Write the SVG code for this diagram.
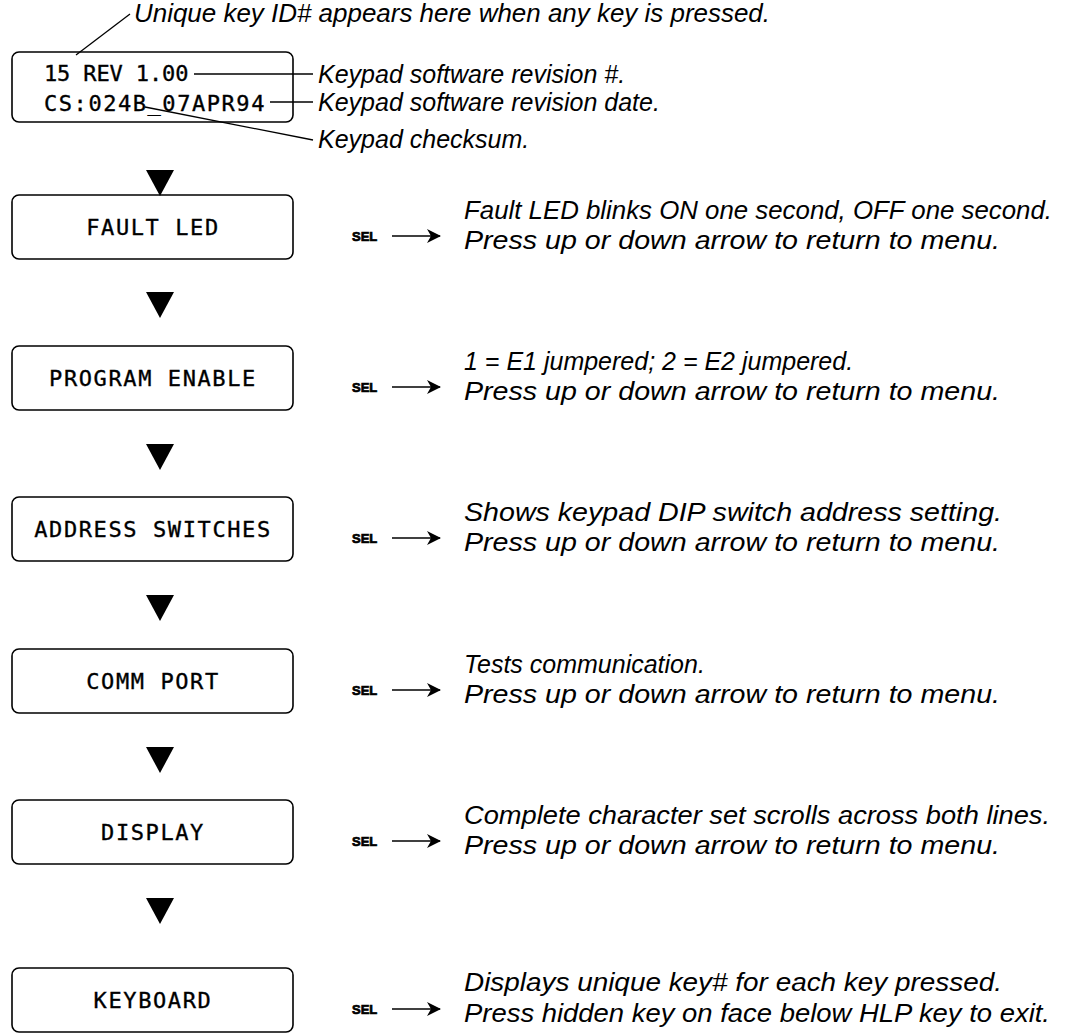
<svg xmlns="http://www.w3.org/2000/svg" width="1067" height="1034" viewBox="0 0 1067 1034">
<style>
.box{fill:none;stroke:#000;stroke-width:1.6}
.lcd{font-family:"DejaVu Sans Mono","Liberation Mono",monospace;font-size:22px;letter-spacing:1.6px;fill:#000;stroke:#000;stroke-width:0.35}
.note{font-family:"Liberation Sans",Arial,sans-serif;font-style:italic;font-size:25px;fill:#000}
.sel{font-family:"Liberation Sans",Arial,sans-serif;font-weight:bold;font-size:13px;fill:#000;stroke:#000;stroke-width:0.7}
.ln{stroke:#000;stroke-width:1.3;fill:none}
.tri{fill:#000}
</style>
<defs>
<marker id="ah" viewBox="0 0 14 14" refX="13" refY="7" markerWidth="14" markerHeight="14" markerUnits="userSpaceOnUse" orient="auto">
<path d="M0,0 L14,7 L0,14 L4,7 Z" fill="#000"/>
</marker>
</defs>
<rect width="1067" height="1034" fill="#fff"/>

<g id="connectors">
<line class="ln" x1="76" y1="55" x2="130" y2="14"/>
<line class="ln" x1="194" y1="74" x2="313" y2="74"/>
<line class="ln" x1="270" y1="102" x2="313" y2="102"/>
<line class="ln" x1="145" y1="107" x2="313" y2="140"/>
<polygon class="tri" points="146,170 174,170 160,196"/>
<polygon class="tri" points="146,292 174,292 160,318"/>
<polygon class="tri" points="146,444 174,444 160,470"/>
<polygon class="tri" points="146,595 174,595 160,621"/>
<polygon class="tri" points="146,747 174,747 160,773"/>
<polygon class="tri" points="146,898 174,898 160,924"/>
<line class="ln" x1="392" y1="236" x2="440" y2="236" marker-end="url(#ah)"/>
<line class="ln" x1="392" y1="387" x2="440" y2="387" marker-end="url(#ah)"/>
<line class="ln" x1="392" y1="538" x2="440" y2="538" marker-end="url(#ah)"/>
<line class="ln" x1="392" y1="690" x2="440" y2="690" marker-end="url(#ah)"/>
<line class="ln" x1="392" y1="841" x2="440" y2="841" marker-end="url(#ah)"/>
<line class="ln" x1="392" y1="1009" x2="440" y2="1009" marker-end="url(#ah)"/>
</g>

<g id="title">
<text class="note" x="134" y="22" textLength="636" lengthAdjust="spacingAndGlyphs">Unique key ID# appears here when any key is pressed.</text>
</g>

<g id="status">
<rect class="box" x="12" y="52" width="281" height="70" rx="7"/>
<text class="lcd" x="44" y="81" textLength="146" lengthAdjust="spacing">15 REV 1.00</text>
<text class="lcd" x="44" y="111" textLength="222" lengthAdjust="spacing">CS:024B_07APR94</text>
<text class="note" x="318" y="83">Keypad software revision #.</text>
<text class="note" x="318" y="111">Keypad software revision date.</text>
<text class="note" x="318" y="148">Keypad checksum.</text>
</g>

<g id="fault">
<rect class="box" x="12" y="195" width="281" height="64" rx="7"/>
<text class="lcd" x="153" y="235" text-anchor="middle">FAULT LED</text>
<text class="sel" x="352" y="241">SEL</text>
<text class="note" x="464" y="219" textLength="588" lengthAdjust="spacingAndGlyphs">Fault LED blinks ON one second, OFF one second.</text>
<text class="note" x="464" y="249" textLength="536" lengthAdjust="spacingAndGlyphs">Press up or down arrow to return to menu.</text>
</g>

<g id="program">
<rect class="box" x="12" y="346" width="281" height="64" rx="7"/>
<text class="lcd" x="153" y="386" text-anchor="middle">PROGRAM ENABLE</text>
<text class="sel" x="352" y="392">SEL</text>
<text class="note" x="464" y="370">1 = E1 jumpered; 2 = E2 jumpered.</text>
<text class="note" x="464" y="400" textLength="536" lengthAdjust="spacingAndGlyphs">Press up or down arrow to return to menu.</text>
</g>

<g id="address">
<rect class="box" x="12" y="497" width="281" height="64" rx="7"/>
<text class="lcd" x="153" y="537" text-anchor="middle">ADDRESS SWITCHES</text>
<text class="sel" x="352" y="543">SEL</text>
<text class="note" x="464" y="521" textLength="538" lengthAdjust="spacingAndGlyphs">Shows keypad DIP switch address setting.</text>
<text class="note" x="464" y="551" textLength="536" lengthAdjust="spacingAndGlyphs">Press up or down arrow to return to menu.</text>
</g>

<g id="comm">
<rect class="box" x="12" y="649" width="281" height="64" rx="7"/>
<text class="lcd" x="153" y="689" text-anchor="middle">COMM PORT</text>
<text class="sel" x="352" y="695">SEL</text>
<text class="note" x="464" y="673">Tests communication.</text>
<text class="note" x="464" y="703" textLength="536" lengthAdjust="spacingAndGlyphs">Press up or down arrow to return to menu.</text>
</g>

<g id="display">
<rect class="box" x="12" y="800" width="281" height="64" rx="7"/>
<text class="lcd" x="153" y="840" text-anchor="middle">DISPLAY</text>
<text class="sel" x="352" y="846">SEL</text>
<text class="note" x="464" y="824" textLength="586" lengthAdjust="spacingAndGlyphs">Complete character set scrolls across both lines.</text>
<text class="note" x="464" y="854" textLength="536" lengthAdjust="spacingAndGlyphs">Press up or down arrow to return to menu.</text>
</g>

<g id="keyboard">
<rect class="box" x="12" y="968" width="281" height="64" rx="7"/>
<text class="lcd" x="153" y="1008" text-anchor="middle">KEYBOARD</text>
<text class="sel" x="352" y="1014">SEL</text>
<text class="note" x="464" y="991" textLength="538" lengthAdjust="spacingAndGlyphs">Displays unique key# for each key pressed.</text>
<text class="note" x="464" y="1022" textLength="586" lengthAdjust="spacingAndGlyphs">Press hidden key on face below HLP key to exit.</text>
</g>
</svg>
